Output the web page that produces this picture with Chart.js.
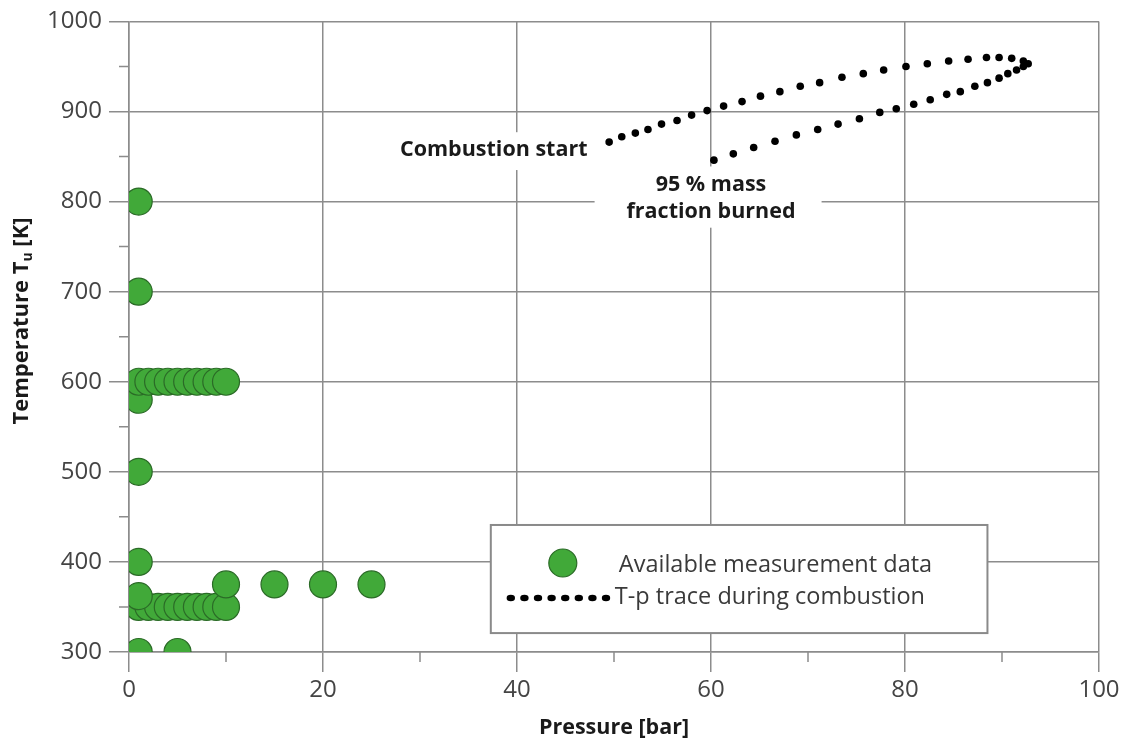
<!DOCTYPE html>
<html>
<head>
<meta charset="utf-8">
<script src="https://cdn.jsdelivr.net/npm/chart.js@4/dist/chart.umd.min.js"></script>
<style>
  html, body { margin: 0; padding: 0; background: #fff; }
  canvas { display: block; }
</style>
</head>
<body>
<canvas id="chart" width="1126" height="744"></canvas>
<script>
// measurement points (pressure in bar, temperature in K)
const measPressure = [1, 1, 1, 1, 2, 3, 4, 5, 6, 7, 8, 9, 10, 1, 1, 1, 2, 3, 4, 5, 6, 7, 8, 9, 10, 1, 10, 15, 20, 25, 1, 5];
const measTemp = [800, 700, 580, 600, 600, 600, 600, 600, 600, 600, 600, 600, 600, 500, 400,
  350, 350, 350, 350, 350, 350, 350, 350, 350, 350, 362, 375, 375, 375, 375, 300, 300];

// T-p trace during combustion, from combustion start round the tip and back
const tracePressure = [49.5, 50.8, 52.2, 53.5, 54.9, 56.5, 58.0, 59.6, 61.3, 63.2, 65.1, 67.1, 69.2, 71.2, 73.5,
  75.7, 77.8, 80.1, 82.3, 84.5, 86.5, 88.4, 89.7, 91.0, 92.2, 92.7, 92.2, 91.5, 90.6, 89.7, 88.5, 87.2, 85.7,
  84.3, 82.6, 80.9, 79.1, 77.4, 75.3, 73.1, 71.0, 68.8, 66.6, 64.4, 62.3, 60.3];
const traceTemp = [866, 872, 876, 880, 886, 890, 896, 901, 906, 911, 917, 922, 928, 932, 938,
  942, 946, 950, 953, 956, 958, 960, 960, 959, 956, 953, 950, 946, 942, 937, 932, 928, 922,
  919, 913, 908, 903, 899, 892, 886, 880, 874, 867, 860, 853, 846];

const xMinor = [10, 30, 50, 70, 90];
const yMinor = [350, 450, 550, 650, 750, 850, 950];

const seriesLabels = ['Available measurement data', 'T-p trace during combustion'];

const font = '"Open Sans", "DejaVu Sans", sans-serif';
const gridColor = '#8c8c8c';
const green = '#41a939';
const greenEdge = '#2b6b27';

const meas = measPressure.map((p, i) => ({ x: p, y: measTemp[i] }));
const trace = tracePressure.map((p, i) => ({ x: p, y: traceTemp[i] }));

function whiteLabel(ctx, lines, cx, cy, lineGap, box) {
  ctx.fillStyle = '#fff';
  ctx.fillRect(box[0], box[1], box[2] - box[0], box[3] - box[1]);
  ctx.fillStyle = '#1a1a1a';
  ctx.font = 'bold 21.5px ' + font;
  ctx.textAlign = 'center';
  ctx.textBaseline = 'middle';
  lines.forEach((t, i) => ctx.fillText(t, cx, cy + i * lineGap));
}

const extras = {
  id: 'extras',
  beforeDatasetsDraw(chart) {
    const { ctx, chartArea: area, scales: { x, y } } = chart;
    ctx.save();
    ctx.strokeStyle = gridColor;
    ctx.lineWidth = 1.5;
    ctx.beginPath();
    for (const v of xMinor) {
      const px = x.getPixelForValue(v);
      ctx.moveTo(px, area.bottom);
      ctx.lineTo(px, area.bottom + 10);
    }
    for (const v of yMinor) {
      const py = y.getPixelForValue(v);
      ctx.moveTo(area.left - 10, py);
      ctx.lineTo(area.left, py);
    }
    ctx.stroke();

    // annotations
    whiteLabel(ctx, ['Combustion start'], x.getPixelForValue(37.6), y.getPixelForValue(857.5), 0,
      [x.getPixelForValue(27.5), y.getPixelForValue(877), x.getPixelForValue(48.5), y.getPixelForValue(835)]);
    whiteLabel(ctx, ['95 % mass', 'fraction burned'], x.getPixelForValue(60), y.getPixelForValue(819), 27,
      [x.getPixelForValue(48), y.getPixelForValue(839), x.getPixelForValue(71.4), y.getPixelForValue(771)]);

    // legend box
    const l = x.getPixelForValue(37.3), r = x.getPixelForValue(88.5);
    const t = y.getPixelForValue(441), b = y.getPixelForValue(321);
    ctx.fillStyle = '#fff';
    ctx.fillRect(l, t, r - l, b - t);
    ctx.strokeStyle = '#8a8a8a';
    ctx.lineWidth = 2;
    ctx.strokeRect(l, t, r - l, b - t);

    const row1 = t + 38, row2 = t + 72;
    ctx.beginPath();
    ctx.arc(l + 72, row1, 14, 0, Math.PI * 2);
    ctx.fillStyle = green;
    ctx.fill();
    ctx.strokeStyle = greenEdge;
    ctx.lineWidth = 1.2;
    ctx.stroke();

    ctx.fillStyle = '#000';
    for (let i = 0; i < 8; i++) {
      ctx.beginPath();
      ctx.ellipse(l + 20 + i * 13.6, row2 + 1, 4.2, 3.2, 0, 0, Math.PI * 2);
      ctx.fill();
    }

    ctx.fillStyle = '#3a3a3a';
    ctx.font = '23.5px ' + font;
    ctx.textAlign = 'left';
    ctx.textBaseline = 'middle';
    ctx.fillText(seriesLabels[0], l + 128, row1 + 2);
    ctx.fillText(seriesLabels[1], l + 124, row2);

    // y axis title with subscript
    ctx.translate(22, 321);
    ctx.rotate(-Math.PI / 2);
    ctx.fillStyle = '#1a1a1a';
    ctx.textBaseline = 'middle';
    const big = 'bold 22px ' + font, small = 'bold 14px ' + font;
    ctx.font = big;
    const w1 = ctx.measureText('Temperature T').width;
    const w3 = ctx.measureText(' [K]').width;
    ctx.font = small;
    const w2 = ctx.measureText('u').width;
    let sx = -(w1 + w2 + w3) / 2;
    ctx.font = big;
    ctx.fillText('Temperature T', sx, 0);
    ctx.font = small;
    ctx.fillText('u', sx + w1, 6);
    ctx.font = big;
    ctx.fillText(' [K]', sx + w1 + w2, 0);
    ctx.restore();
  }
};

new Chart(document.getElementById('chart'), {
  type: 'scatter',
  data: {
    datasets: [
      {
        label: seriesLabels[0],
        data: meas,
        backgroundColor: green,
        borderColor: greenEdge,
        borderWidth: 1.2,
        pointRadius: 13.5,
        pointHoverRadius: 13.5
      },
      {
        label: seriesLabels[1],
        data: trace,
        backgroundColor: '#000',
        borderColor: '#000',
        borderWidth: 0,
        pointRadius: 3.8,
        pointHoverRadius: 3.8,
        showLine: false
      }
    ]
  },
  options: {
    responsive: false,
    animation: false,
    devicePixelRatio: 1,
    layout: { padding: { top: 17, right: 27, left: 0, bottom: 0 } },
    plugins: {
      legend: { display: false },
      tooltip: { enabled: false }
    },
    scales: {
      x: {
        type: 'linear',
        min: 0,
        max: 100,
        afterFit: s => { s.height = 92; },
        ticks: { stepSize: 20, padding: 4, maxRotation: 0, color: '#444', font: { family: font, size: 24 } },
        grid: { color: gridColor, lineWidth: 1.5, tickLength: 20, tickColor: gridColor, tickWidth: 1.5 },
        border: { display: true, color: gridColor, width: 1.5 },
        title: {
          display: true,
          text: 'Pressure [bar]',
          color: '#1a1a1a',
          font: { family: font, size: 21.5, weight: 'bold' },
          padding: { top: 0, bottom: 3 }
        }
      },
      y: {
        type: 'linear',
        min: 300,
        max: 1000,
        afterFit: s => { s.width = 129; },
        ticks: { stepSize: 100, padding: 7, color: '#444', font: { family: font, size: 24 }, callback: v => String(v) },
        grid: { color: gridColor, lineWidth: 1.5, tickLength: 20, tickColor: gridColor, tickWidth: 1.5 },
        border: { display: true, color: gridColor, width: 1.5 }
      }
    }
  },
  plugins: [extras]
});
</script>
</body>
</html>
